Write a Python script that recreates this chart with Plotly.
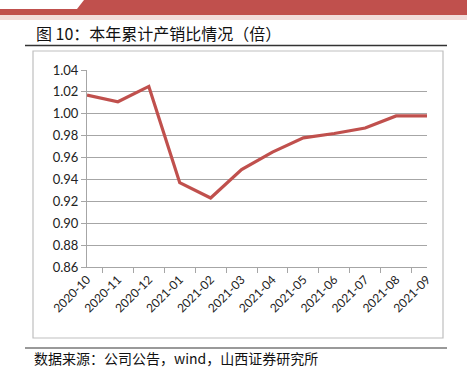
import plotly.graph_objects as go

months = ["2020-10", "2020-11", "2020-12", "2021-01", "2021-02", "2021-03",
          "2021-04", "2021-05", "2021-06", "2021-07", "2021-08", "2021-09"]
ratio = [1.017, 1.011, 1.025, 0.937, 0.923, 0.949, 0.965, 0.978, 0.982, 0.987, 0.998, 0.998]
y_ticks = [0.86, 0.88, 0.90, 0.92, 0.94, 0.96, 0.98, 1.00, 1.02, 1.04]
title_text = "图 10：本年累计产销比情况（倍）"
source_text = "数据来源：公司公告，wind，山西证券研究所"

W, H = 467, 377
def px(x): return x / W
def py(y): return 1 - y / H

fig = go.Figure()
fig.add_trace(go.Scatter(
    x=months, y=ratio, mode="lines",
    line=dict(color="#C0504D", width=3.2),
    hoverinfo="skip", showlegend=False,
))

shapes = [
    dict(type="rect", xref="paper", yref="paper", x0=0, x1=1, y0=py(15), y1=py(0),
         fillcolor="#C0504D", line=dict(width=0), layer="below"),
    dict(type="path", xref="paper", yref="paper",
         path=f"M 0 {py(0)} L {px(84)} {py(0)} L {px(77)} {py(9)} L 0 {py(9)} Z",
         fillcolor="white", line=dict(width=0), layer="below"),
    dict(type="rect", xref="paper", yref="paper", x0=0, x1=1, y0=py(20), y1=py(15),
         fillcolor="#F2DCDB", line=dict(width=0), layer="below"),
    dict(type="line", xref="paper", yref="paper", x0=px(25), x1=px(447), y0=py(45.5), y1=py(45.5),
         line=dict(color="#333333", width=1.5)),
    dict(type="rect", xref="paper", yref="paper", x0=px(33), x1=px(443), y0=py(338), y1=py(51),
         line=dict(color="#BFBFBF", width=1.2), fillcolor="rgba(0,0,0,0)", layer="below"),
    dict(type="line", xref="paper", yref="paper", x0=px(25), x1=px(447), y0=py(348), y1=py(348),
         line=dict(color="#999999", width=2)),
]

annotations = [
    dict(text=title_text, xref="paper", yref="paper", x=px(34), y=py(33),
         xanchor="left", yanchor="middle", showarrow=False,
         font=dict(family="Noto Sans CJK SC", size=16, color="#111111")),
    dict(text=source_text, xref="paper", yref="paper", x=px(32), y=py(358),
         xanchor="left", yanchor="middle", showarrow=False,
         font=dict(family="Noto Sans CJK SC", size=14, color="#111111")),
]

fig.update_layout(
    width=W, height=H,
    margin=dict(l=0, r=0, t=0, b=0, pad=0),
    paper_bgcolor="white", plot_bgcolor="white",
    shapes=shapes, annotations=annotations,
    xaxis=dict(
        domain=[px(87), px(427)], automargin=False,
        type="category", tickson="boundaries",
        showgrid=False, showline=True, linecolor="#A6A6A6", linewidth=1,
        ticks="outside", ticklen=5, tickcolor="#A6A6A6",
        tickangle=-45, tickfont=dict(family="Lato", size=12, color="#222222"),
        fixedrange=True,
    ),
    yaxis=dict(
        domain=[py(267), py(70)], automargin=False,
        range=[0.86, 1.04], tickvals=y_ticks, tickformat=".2f",
        showgrid=True, gridcolor="#A6A6A6", gridwidth=1,
        showline=True, linecolor="#A6A6A6", linewidth=1,
        ticks="outside", ticklen=5, tickcolor="#A6A6A6",
        tickfont=dict(family="Lato", size=13, color="#222222"),
        zeroline=False, fixedrange=True,
    ),
)

fig.write_html("out.html", config={"displayModeBar": False},
               post_script="document.body.style.margin='0';document.body.style.overflow='hidden';")
